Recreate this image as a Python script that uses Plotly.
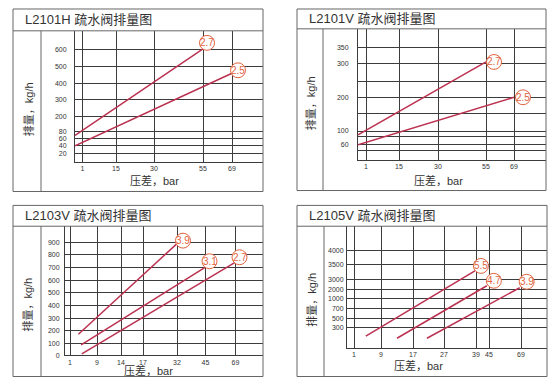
import numpy as np
import plotly.graph_objects as go

# page body has an 8px default margin: figure is drawn at (8, 8) in the window
OFF = 8
W, H = 544, 372

# ---------------- data ----------------
titles = ["L2101H 疏水阀排量图", "L2101V 疏水阀排量图", "L2103V 疏水阀排量图", "L2105V 疏水阀排量图"]
y_title = "排量，kg/h"
x_title = "压差，bar"

p1_x_ticks = [1, 15, 30, 55, 69]
p1_y_ticks = [20, 40, 60, 80, 200, 300, 400, 500, 600]
p1_y_text = ["20", "40", "60", "80", "200", "300", "400", "500", "600"]
p1_series = ["2.7", "2.5"]
p1_pressure = [[0, 55], [0, 69]]
p1_flow = [[70, 605], [40, 460]]

p2_x_ticks = [1, 15, 30, 55, 69]
p2_y_ticks = [40, 60, 80, 100, 150, 200, 250, 300, 350]
p2_y_text = ["", "60", "", "100", "", "200", "", "300", "350"]
p2_series = ["2.7", "2.5"]
p2_pressure = [[0, 55], [0, 69]]
p2_flow = [[87, 305], [60, 200]]

p3_x_ticks = [1, 9, 14, 17, 32, 45, 69]
p3_y_ticks = [0, 100, 200, 300, 400, 500, 600, 700, 800, 900]
p3_y_text = ["0", "100", "200", "300", "400", "500", "600", "700", "800", "900"]
p3_series = ["3.9", "3.1", "2.7"]
p3_pressure = [[3.5, 32], [4.3, 45], [4.5, 69]]
p3_flow = [[172, 890], [87, 700], [13, 740]]

p4_x_ticks = [1, 9, 17, 27, 39, 45, 69]
p4_y_ticks = [300, 500, 700, 1000, 2000, 3000, 3500, 4000]
p4_y_text = ["300", "500", "700", "1000", "2000", "3000", "3500", "4000"]
p4_series = ["5.5", "4.7", "3.9"]
p4_pressure = [[4.5, 38.6], [13, 44], [21.5, 68]]
p4_flow = [[170, 3300], [140, 2400], [140, 2200]]

# ---------------- layout (pixel geometry of each panel, window coords) ----------------
panels = [
    dict(box=(13, 9, 263, 193), band=31, divider=41, plot=(75, 31, 263, 163),
         xpx=[82.5, 116, 154, 203, 232], ypx=[155, 147, 140, 133, 117, 100, 84, 67, 50],
         xt=p1_x_ticks, yt=p1_y_ticks, ytt=p1_y_text, names=p1_series, P=p1_pressure, Q=p1_flow,
         off=[(4, 6), (6, 3)], standoff=6, xlab=(154, 182), ylab=(28, 110)),
    dict(box=(297, 9, 546, 192), band=29, divider=323, plot=(358, 29, 546, 161),
         xpx=[366, 399, 438, 486, 514], ypx=[152, 146, 138, 132, 114, 98, 82, 64, 48],
         xt=p2_x_ticks, yt=p2_y_ticks, ytt=p2_y_text, names=p2_series, P=p2_pressure, Q=p2_flow,
         off=[(8, 0), (9, 0)], standoff=7, xlab=(438, 182), ylab=(310, 104)),
    dict(box=(13, 207, 263, 379.5), band=228, divider=41, plot=(65, 228, 263, 358.3),
         xpx=[70, 97, 121, 143, 177, 205.5, 235.5],
         ypx=[358.3, 346, 333.3, 320.7, 307.7, 295, 282.3, 269.3, 256.7, 244.3],
         xt=p3_x_ticks, yt=p3_y_ticks, ytt=p3_y_text, names=p3_series, P=p3_pressure, Q=p3_flow,
         off=[(6, 3), (4, 6), (4, 5)], standoff=3, xlab=(148, 373), ylab=(28, 307)),
    dict(box=(297, 207, 547, 379.5), band=228, divider=324, plot=(347, 228, 547, 350.5),
         xpx=[354, 381, 413, 444, 476, 489, 521], ypx=[330, 321, 311, 301, 292, 282, 267, 252.5],
         xt=p4_x_ticks, yt=p4_y_ticks, ytt=p4_y_text, names=p4_series, P=p4_pressure, Q=p4_flow,
         off=[(6, 5), (7, 5), (7, 6)], standoff=1, xlab=(418, 368), ylab=(312, 302)),
]

FONT = "Liberation Sans, Arial, Noto Sans CJK SC, sans-serif"
GRID = "#3c3c3c"
LINE_RED = "#bb3150"
CIRCLE = "#e0643f"
BORDER = "#666666"


def px(v):
    return (v - OFF) / W


def py(v):
    return 1 - (v - OFF) / H


def make_scale(vals, pos):
    vals = np.asarray(vals, float)
    pos = np.asarray(pos, float)
    o = np.argsort(vals)
    vals, pos = vals[o], pos[o]

    def f(v):
        v = np.asarray(v, float)
        out = np.interp(v, vals, pos)
        s0 = (pos[1] - pos[0]) / (vals[1] - vals[0])
        s1 = (pos[-1] - pos[-2]) / (vals[-1] - vals[-2])
        out = np.where(v < vals[0], pos[0] + (v - vals[0]) * s0, out)
        out = np.where(v > vals[-1], pos[-1] + (v - vals[-1]) * s1, out)
        return out
    return f


fig = go.Figure()
shapes = []
annotations = []

for i, pn in enumerate(panels):
    k = "" if i == 0 else str(i + 1)
    L, T, R, B = pn["plot"]
    width, height = R - L, B - T
    # axis units = pixels measured from the plot's left / bottom edge
    xpos = [p - L for p in pn["xpx"]]
    ypos = [B - p for p in pn["ypx"]]
    fx = make_scale([0] + list(pn["xt"]), [0] + xpos)
    add0 = pn["yt"][0] != 0
    fy = make_scale(([0] if add0 else []) + list(pn["yt"]), ([0] if add0 else []) + ypos)

    for name, P, Q, (dx, dy) in zip(pn["names"], pn["P"], pn["Q"], pn["off"]):
        xs = fx(P)
        ys = fy(Q)
        fig.add_trace(go.Scatter(x=xs, y=ys, mode="lines", xaxis="x" + k, yaxis="y" + k,
                                 line=dict(color=LINE_RED, width=1.5), showlegend=False,
                                 hoverinfo="skip", cliponaxis=False))
        cx, cy = xs[-1] + dx, ys[-1] + dy
        r = 7.5
        shapes.append(dict(type="circle", xref="x" + k, yref="y" + k,
                           x0=cx - r, x1=cx + r, y0=cy - r, y1=cy + r,
                           fillcolor="white", line=dict(color=CIRCLE, width=1), layer="above"))
        annotations.append(dict(x=cx, y=cy, xref="x" + k, yref="y" + k, text=name,
                                xanchor="center", yanchor="middle",
                                showarrow=False, font=dict(size=10, color=CIRCLE, family=FONT)))

    fig.update_layout(**{
        "xaxis" + k: dict(domain=[px(L), px(R)], range=[0, width], anchor="y" + k,
                          tickmode="array", tickvals=xpos, ticktext=[str(t) for t in pn["xt"]],
                          showgrid=True, gridcolor=GRID, gridwidth=1, zeroline=False,
                          showline=True, linecolor=GRID, linewidth=1, ticks="",
                          tickfont=dict(size=7, color="#333", family=FONT), fixedrange=True),
        "yaxis" + k: dict(domain=[py(B), py(T)], range=[0, height], anchor="x" + k,
                          tickmode="array", tickvals=ypos, ticktext=pn["ytt"],
                          showgrid=True, gridcolor=GRID, gridwidth=1, zeroline=False,
                          showline=True, linecolor=GRID, linewidth=1, ticks="",
                          ticklabelstandoff=pn["standoff"],
                          tickfont=dict(size=7, color="#333", family=FONT), fixedrange=True),
    })

    bl, bt, br, bb = pn["box"]
    shapes.append(dict(type="rect", xref="paper", yref="paper", x0=px(bl), x1=px(br),
                       y0=py(bb), y1=py(bt), line=dict(color=BORDER, width=1)))
    shapes.append(dict(type="line", xref="paper", yref="paper", x0=px(bl), x1=px(br),
                       y0=py(pn["band"]), y1=py(pn["band"]), line=dict(color=BORDER, width=1)))
    shapes.append(dict(type="line", xref="paper", yref="paper", x0=px(pn["divider"]), x1=px(pn["divider"]),
                       y0=py(bb), y1=py(pn["band"]), line=dict(color=BORDER, width=1)))
    annotations.append(dict(x=px(bl + 10), y=py((bt + pn["band"]) / 2), xref="paper", yref="paper",
                            text=titles[i], showarrow=False, xanchor="left", yanchor="middle",
                            font=dict(size=13, color="#333", family=FONT)))
    annotations.append(dict(x=px(pn["ylab"][0]), y=py(pn["ylab"][1]),
                            xref="paper", yref="paper", text=y_title, textangle=-90,
                            xanchor="center", yanchor="middle",
                            showarrow=False, font=dict(size=11, color="#333", family=FONT)))
    annotations.append(dict(x=px(pn["xlab"][0]), y=py(pn["xlab"][1]), xref="paper", yref="paper",
                            text=x_title, showarrow=False, xanchor="center", yanchor="middle",
                            font=dict(size=11, color="#333", family=FONT)))

fig.update_layout(width=W, height=H, margin=dict(l=0, r=0, t=0, b=0),
                  paper_bgcolor="white", plot_bgcolor="white",
                  shapes=shapes, annotations=annotations, showlegend=False)

fig.write_html("out.html")
